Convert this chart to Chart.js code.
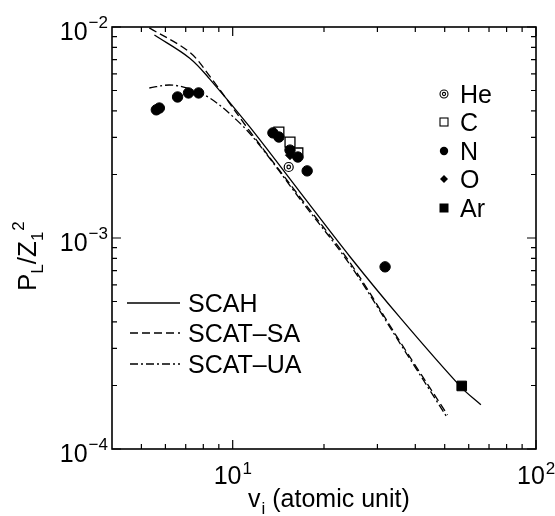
<!DOCTYPE html>
<html><head><meta charset="utf-8">
<script src="https://cdn.jsdelivr.net/npm/chart.js@4/dist/chart.umd.min.js"></script>
<style>html,body{margin:0;padding:0;background:#fff;}#wrap{width:555px;height:516px;}</style>
</head><body><div id="wrap"><canvas id="c" width="555" height="516"></canvas></div>
<script>
// ---- data ----
const heV = [15.3];
const heP = [2.17e-3];
const cV = [14.2, 15.45, 16.4];
const cP = [3.18e-3, 2.85e-3, 2.53e-3];
const nV = [5.60, 5.73, 6.58, 7.15, 7.72, 13.57, 14.2, 15.45, 16.4, 17.6, 31.8];
const nP = [4.05e-3, 4.13e-3, 4.66e-3, 4.87e-3, 4.87e-3, 3.15e-3, 3.01e-3, 2.61e-3, 2.42e-3, 2.08e-3, 7.3e-4];
const oV = [15.45];
const oP = [2.47e-3];
const arV = [56.9];
const arP = [1.99e-4];

const scahV = [5.52, 7.20, 8.39, 11.38, 16.67, 24.4, 35.7, 56.5, 65.8];
const scahP = [9.16e-3, 7.13e-3, 5.68e-3, 3.36e-3, 1.65e-3, 8.13e-4, 4.18e-4, 1.97e-4, 1.62e-4];
const saV = [5.31, 7.20, 8.39, 11.38, 16.67, 24.4, 35.7, 51.1];
const saP = [9.9e-3, 7.61e-3, 5.86e-3, 3.21e-3, 1.56e-3, 7.62e-4, 3.21e-4, 1.45e-4];
const uaV = [5.31, 6.18, 7.04, 8.39, 10.31, 12.10, 16.67, 24.4, 35.7, 51.1];
const uaP = [5.14e-3, 5.31e-3, 5.14e-3, 4.61e-3, 3.62e-3, 2.82e-3, 1.53e-3, 7.45e-4, 3.15e-4, 1.40e-4];

const xMajor = [10, 100];
const xMajorExp = ['1', '2'];
const xMinor = [5, 6, 7, 8, 9, 20, 30, 40, 50, 60, 70, 80, 90];
const yMajor = [1e-2, 1e-3, 1e-4];
const yMajorExp = ['\u22122', '\u22123', '\u22124'];
const yMinor = [2e-4, 3e-4, 4e-4, 5e-4, 6e-4, 7e-4, 8e-4, 9e-4, 2e-3, 3e-3, 4e-3, 5e-3, 6e-3, 7e-3, 8e-3, 9e-3];

const lineNames = ['SCAH', 'SCAT\u2013SA', 'SCAT\u2013UA'];
const markerNames = ['He', 'C', 'N', 'O', 'Ar'];
const xTitle = ['v', 'i', ' (atomic unit)'];

const zip = (a, b) => a.map((v, i) => ({x: v, y: b[i]}));
const FONT = "'Liberation Sans', Arial, Helvetica, sans-serif";

const lineBase = {showLine: true, borderColor: '#000', borderWidth: 1.3, pointRadius: 0,
  tension: 0.35, fill: false};

const deco = {
  id: 'deco',
  afterDatasetsDraw(chart) {
    const ctx = chart.ctx, a = chart.chartArea, xs = chart.scales.x, ys = chart.scales.y;
    ctx.save();
    ctx.strokeStyle = '#000'; ctx.fillStyle = '#000';
    // frame
    ctx.lineWidth = 1.6;
    ctx.strokeRect(a.left, a.top, a.right - a.left, a.bottom - a.top);
    ctx.lineWidth = 1.2;
    ctx.beginPath();
    const tx = (v, len) => { const p = xs.getPixelForValue(v);
      ctx.moveTo(p, a.bottom); ctx.lineTo(p, a.bottom - len);
      ctx.moveTo(p, a.top); ctx.lineTo(p, a.top + len); };
    const ty = (v, len) => { const p = ys.getPixelForValue(v);
      ctx.moveTo(a.left, p); ctx.lineTo(a.left + len, p);
      ctx.moveTo(a.right, p); ctx.lineTo(a.right - len, p); };
    xMajor.forEach(v => tx(v, 9)); xMinor.forEach(v => tx(v, 5));
    yMajor.forEach(v => ty(v, 9)); yMinor.forEach(v => ty(v, 5));
    ctx.stroke();

    // tick labels
    ctx.textBaseline = 'alphabetic';
    xMajor.forEach((v, i) => {
      const p = xs.getPixelForValue(v);
      ctx.font = '25px ' + FONT; ctx.textAlign = 'left';
      ctx.fillText('10', p - 19, 484);
      const w = ctx.measureText('10').width;
      ctx.font = '17px ' + FONT;
      ctx.fillText(xMajorExp[i], p - 19 + w + 1, 474);
    });
    yMajor.forEach((v, i) => {
      const p = ys.getPixelForValue(v);
      ctx.font = '17px ' + FONT; ctx.textAlign = 'right';
      ctx.fillText(yMajorExp[i], 108, p + 1);
      const we = ctx.measureText(yMajorExp[i]).width;
      ctx.font = '25px ' + FONT;
      ctx.fillText('10', 108 - we - 1, p + 13);
    });

    // x title
    ctx.textAlign = 'left';
    let x = 248;
    ctx.font = '25px ' + FONT; ctx.fillText(xTitle[0], x, 507); x += ctx.measureText(xTitle[0]).width;
    ctx.font = '17px ' + FONT; ctx.fillText(xTitle[1], x + 1, 514); x += ctx.measureText(xTitle[1]).width + 1;
    ctx.font = '25px ' + FONT; ctx.fillText(xTitle[2], x, 507);

    // y title (rotated)
    ctx.save();
    ctx.translate(36, 291); ctx.rotate(-Math.PI / 2);
    let t = 0;
    const part = (s, size, dy) => { ctx.font = size + 'px ' + FONT; ctx.fillText(s, t, dy); t += ctx.measureText(s).width; };
    part('P', 26, 0); part('L', 17, 7); part('/', 26, 0); part('Z', 26, 0); part('1', 17, 7); t += 1; part('2', 17, -12);
    ctx.restore();

    // line legend
    const dashes = [[], [8, 4], [8, 3, 2, 3]];
    const ly = [303, 333, 364];
    ctx.lineWidth = 1.3;
    ly.forEach((y, i) => {
      ctx.setLineDash(dashes[i]);
      ctx.beginPath(); ctx.moveTo(i === 0 ? 127 : 130, y); ctx.lineTo(180, y); ctx.stroke();
    });
    ctx.setLineDash([]);
    ctx.font = '25px ' + FONT; ctx.textAlign = 'left'; ctx.textBaseline = 'middle';
    lineNames.forEach((s, i) => ctx.fillText(s, 188, ly[i] + 2));

    // marker legend
    const my = [94, 122, 151, 179, 208];
    const mx = 444;
    ctx.lineWidth = 1.1;
    ctx.beginPath(); ctx.arc(mx, my[0], 4, 0, 2 * Math.PI); ctx.stroke();
    ctx.beginPath(); ctx.arc(mx, my[0], 1.6, 0, 2 * Math.PI); ctx.stroke();
    ctx.strokeRect(mx - 4, my[1] - 4, 8, 8);
    ctx.beginPath(); ctx.arc(mx, my[2], 4.2, 0, 2 * Math.PI); ctx.fill();
    ctx.beginPath(); ctx.moveTo(mx, my[3] - 4); ctx.lineTo(mx + 4, my[3]); ctx.lineTo(mx, my[3] + 4); ctx.lineTo(mx - 4, my[3]); ctx.closePath(); ctx.fill();
    ctx.fillRect(mx - 4.5, my[4] - 4.5, 9, 9);
    ctx.font = '25px ' + FONT;
    markerNames.forEach((s, i) => ctx.fillText(s, 460, my[i] + 2));
    ctx.restore();
  }
};

new Chart(document.getElementById('c'), {
  type: 'scatter',
  data: {datasets: [
    Object.assign({label: lineNames[0], data: zip(scahV, scahP), order: 10}, lineBase),
    Object.assign({label: lineNames[1], data: zip(saV, saP), order: 11, borderDash: [8, 4]}, lineBase),
    Object.assign({label: lineNames[2], data: zip(uaV, uaP), order: 12, borderDash: [8, 3, 2, 3]}, lineBase),
    {label: 'C', data: zip(cV, cP), pointStyle: 'rect', pointRadius: 7, backgroundColor: '#fff', borderColor: '#000', borderWidth: 1.3, order: 6},
    {label: 'He', data: zip(heV, heP), pointStyle: 'circle', pointRadius: 4.5, backgroundColor: '#fff', borderColor: '#000', borderWidth: 1.2, order: 5},
    {label: 'He-inner', data: zip(heV, heP), pointStyle: 'circle', pointRadius: 1.8, backgroundColor: '#fff', borderColor: '#000', borderWidth: 1.2, order: 4},
    {label: 'O', data: zip(oV, oP), pointStyle: 'rectRot', pointRadius: 4.5, backgroundColor: '#000', borderColor: '#000', borderWidth: 1, order: 3},
    {label: 'N', data: zip(nV, nP), pointStyle: 'circle', pointRadius: 5.2, backgroundColor: '#000', borderColor: '#000', borderWidth: 1, order: 2},
    {label: 'Ar', data: zip(arV, arP), pointStyle: 'rect', pointRadius: 6.8, backgroundColor: '#000', borderColor: '#000', borderWidth: 1, order: 1}
  ]},
  options: {
    responsive: false, animation: false, events: [],
    layout: {padding: {left: 112, top: 27, right: 19, bottom: 67}},
    plugins: {legend: {display: false}, tooltip: {enabled: false}},
    scales: {
      x: {type: 'logarithmic', min: 4, max: 100, display: false},
      y: {type: 'logarithmic', min: 1e-4, max: 1e-2, display: false}
    }
  },
  plugins: [deco]
});
</script>
</body></html>
